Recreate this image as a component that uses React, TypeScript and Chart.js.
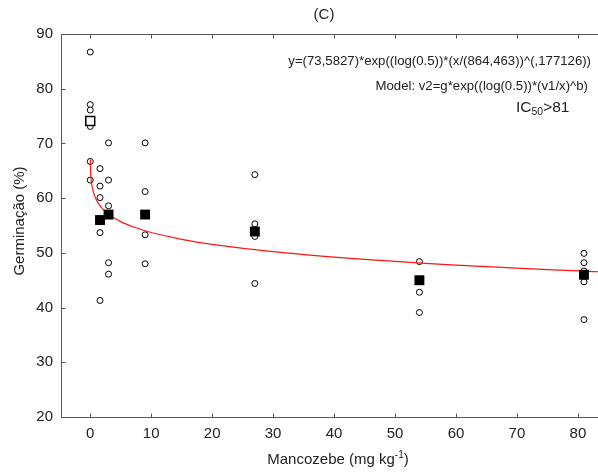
import React, { useEffect, useRef } from "react";
import { Chart, registerables } from "chart.js";

Chart.register(...registerables);

// ---- data ----
const xTickValues = [0, 10, 20, 30, 40, 50, 60, 70, 80];
const yTickValues = [20, 30, 40, 50, 60, 70, 80, 90];

const obsDose = [
  0, 0, 0, 0, 0, 0,
  1.6, 1.6, 1.6, 1.6, 1.6,
  3, 3, 3, 3, 3,
  9, 9, 9, 9,
  27, 27, 27, 27,
  54, 54, 54,
  81, 81, 81, 81, 81,
];
const obsGerm = [
  86.7, 77.1, 76.1, 73.1, 66.7, 63.3,
  65.4, 62.2, 60.1, 53.7, 41.3,
  70.1, 63.3, 58.6, 48.2, 46.1,
  70.1, 61.2, 53.3, 48.0,
  64.3, 55.3, 53.0, 44.4,
  48.4, 42.8, 39.1,
  49.9, 48.2, 46.7, 44.7, 37.8,
];

const controlDose = [0];
const controlMean = [74.1];

const meanDose = [1.6, 3, 9, 27, 54, 81];
const meanGerm = [56.0, 57.0, 57.0, 53.9, 45.0, 46.0];

const curveDose = [0.01, 0.05, 0.1, 0.2, 0.4, 0.7, 1, 1.5, 2, 3, 4, 5, 7, 10, 15, 20, 30, 40, 50, 60, 70, 80, 85];
const curveGerm = [67.08, 65.06, 64.02, 62.87, 61.59, 60.46, 59.69, 58.77, 58.08, 57.07, 56.31, 55.71, 54.77, 53.72, 52.48, 51.56, 50.21, 49.22, 48.43, 47.77, 47.2, 46.7, 46.47];

const titleText = "(C)";
const yTitle = "Germinação (%)";
const xTitleMain = "Mancozebe (mg kg";
const xTitleSup = "-1";
const xTitleEnd = ")";
const eqLine1 = "y=(73,5827)*exp((log(0.5))*(x/(864,463))^(,177126))";
const eqLine2 = "Model: v2=g*exp((log(0.5))*(v1/x)^b)";

const X_MIN = -4.8;
const X_MAX = 83.3;
const Y_MIN = 20;
const Y_MAX = 90;

const FONT = '"Liberation Sans", Arial, sans-serif';
const TEXT = "#222";
const FRAME = "#555";

const zip = (xs: number[], ys: number[]) => xs.map((x, i) => ({ x, y: ys[i] }));

const framePlugin = {
  id: "frameAndText",
  beforeDatasetsDraw(chart: any) {
    const { ctx, chartArea } = chart;
    const { left, top, bottom } = chartArea;
    const W = chart.width;
    const xs = chart.scales.x;
    const ys = chart.scales.y;
    ctx.save();
    ctx.strokeStyle = FRAME;
    ctx.lineWidth = 1;
    ctx.beginPath();
    ctx.moveTo(left + 0.5, top + 0.5);
    ctx.lineTo(W, top + 0.5);
    ctx.moveTo(left + 0.5, top + 0.5);
    ctx.lineTo(left + 0.5, bottom + 0.5);
    ctx.lineTo(W, bottom + 0.5);
    xTickValues.forEach((v) => {
      const px = Math.round(xs.getPixelForValue(v)) + 0.5;
      ctx.moveTo(px, bottom + 0.5);
      ctx.lineTo(px, bottom - 3.5);
      ctx.moveTo(px, top + 0.5);
      ctx.lineTo(px, top + 4.5);
    });
    yTickValues.forEach((v) => {
      const py = Math.round(ys.getPixelForValue(v)) + 0.5;
      ctx.moveTo(left + 0.5, py);
      ctx.lineTo(left + 4.5, py);
    });
    ctx.stroke();
    ctx.restore();
  },
  afterDraw(chart: any) {
    const { ctx } = chart;
    ctx.save();
    ctx.fillStyle = TEXT;
    ctx.textBaseline = "middle";

    // title
    ctx.font = `15px ${FONT}`;
    ctx.textAlign = "center";
    ctx.fillText(titleText, 324, 15);

    // y title
    ctx.save();
    ctx.translate(20, 221);
    ctx.rotate(-Math.PI / 2);
    ctx.textAlign = "center";
    ctx.font = `15px ${FONT}`;
    ctx.fillText(yTitle, 0, 0);
    ctx.restore();

    // x title with superscript
    ctx.textAlign = "left";
    ctx.font = `15px ${FONT}`;
    const w1 = ctx.measureText(xTitleMain).width;
    const w3 = ctx.measureText(xTitleEnd).width;
    ctx.font = `10px ${FONT}`;
    const w2 = ctx.measureText(xTitleSup).width;
    const total = w1 + w2 + w3;
    const cx = 338;
    const x0 = cx - total / 2;
    const yT = 460;
    ctx.font = `15px ${FONT}`;
    ctx.fillText(xTitleMain, x0, yT);
    ctx.font = `10px ${FONT}`;
    ctx.fillText(xTitleSup, x0 + w1, yT - 5);
    ctx.font = `15px ${FONT}`;
    ctx.fillText(xTitleEnd, x0 + w1 + w2, yT);

    // equation text
    ctx.textAlign = "right";
    ctx.font = `13.2px ${FONT}`;
    ctx.fillText(eqLine1, 591, 61);
    ctx.fillText(eqLine2, 588, 86);

    // IC50 > 81
    ctx.textAlign = "left";
    let ix = 516;
    const iy = 108;
    ctx.font = `15.5px ${FONT}`;
    ctx.fillText("IC", ix, iy);
    ix += ctx.measureText("IC").width;
    ctx.font = `10.5px ${FONT}`;
    ctx.fillText("50", ix, iy + 4);
    ix += ctx.measureText("50").width;
    ctx.font = `15.5px ${FONT}`;
    ctx.fillText(">81", ix, iy);
    ctx.restore();
  },
};

export default function App() {
  const ref = useRef<HTMLCanvasElement | null>(null);

  useEffect(() => {
    if (!ref.current) return;
    const chart = new Chart(ref.current, {
      type: "scatter",
      data: {
        datasets: [
          {
            label: "Médias",
            data: zip(meanDose, meanGerm),
            pointStyle: "rect",
            pointRadius: 7,
            backgroundColor: "#000",
            borderColor: "#000",
            borderWidth: 0,
            order: 0,
          },
          {
            label: "Controle",
            data: zip(controlDose, controlMean),
            pointStyle: "rect",
            pointRadius: 6.3,
            backgroundColor: "#fff",
            borderColor: "#000",
            borderWidth: 1.5,
            order: 1,
          },
          {
            label: "Modelo",
            data: zip(curveDose, curveGerm),
            showLine: true,
            pointRadius: 0,
            borderColor: "rgb(255,20,20)",
            borderWidth: 1.2,
            fill: false,
            tension: 0.3,
            clip: { left: 0, top: 0, bottom: 0, right: 20 },
            order: 2,
          },
          {
            label: "Observado",
            data: zip(obsDose, obsGerm),
            pointStyle: "circle",
            pointRadius: 3,
            backgroundColor: "#fff",
            borderColor: "#000",
            borderWidth: 1,
            order: 3,
          },
        ],
      },
      options: {
        animation: false,
        responsive: false,
        devicePixelRatio: 1,
        layout: { autoPadding: false, padding: { top: 34, left: 0, right: 0, bottom: 0 } },
        plugins: {
          legend: { display: false },
          tooltip: { enabled: false },
          title: { display: false },
        },
        scales: {
          x: {
            type: "linear",
            min: X_MIN,
            max: X_MAX,
            afterBuildTicks: (s: any) => {
              s.ticks = xTickValues.map((v) => ({ value: v }));
            },
            afterFit: (s: any) => {
              s.height = 55;
              s.paddingLeft = 0;
              s.paddingRight = 0;
            },
            grid: { display: false, drawTicks: false },
            border: { display: false },
            ticks: {
              padding: 8,
              color: TEXT,
              font: { family: FONT, size: 15 },
              maxRotation: 0,
              callback: (v: any) => String(v),
            },
          },
          y: {
            type: "linear",
            min: Y_MIN,
            max: Y_MAX,
            afterBuildTicks: (s: any) => {
              s.ticks = yTickValues.map((v) => ({ value: v }));
            },
            afterFit: (s: any) => {
              s.width = 61;
              s.paddingTop = 0;
              s.paddingBottom = 0;
            },
            grid: { display: false, drawTicks: false },
            border: { display: false },
            ticks: {
              padding: 8,
              color: TEXT,
              font: { family: FONT, size: 15 },
              callback: (v: any) => String(v),
            },
          },
        },
      },
      plugins: [framePlugin],
    } as any);
    return () => chart.destroy();
  }, []);

  return (
    <div style={{ position: "absolute", left: 0, top: 0, width: 598, height: 472, background: "#fff" }}>
      <canvas ref={ref} width={598} height={472} style={{ display: "block" }} />
    </div>
  );
}
